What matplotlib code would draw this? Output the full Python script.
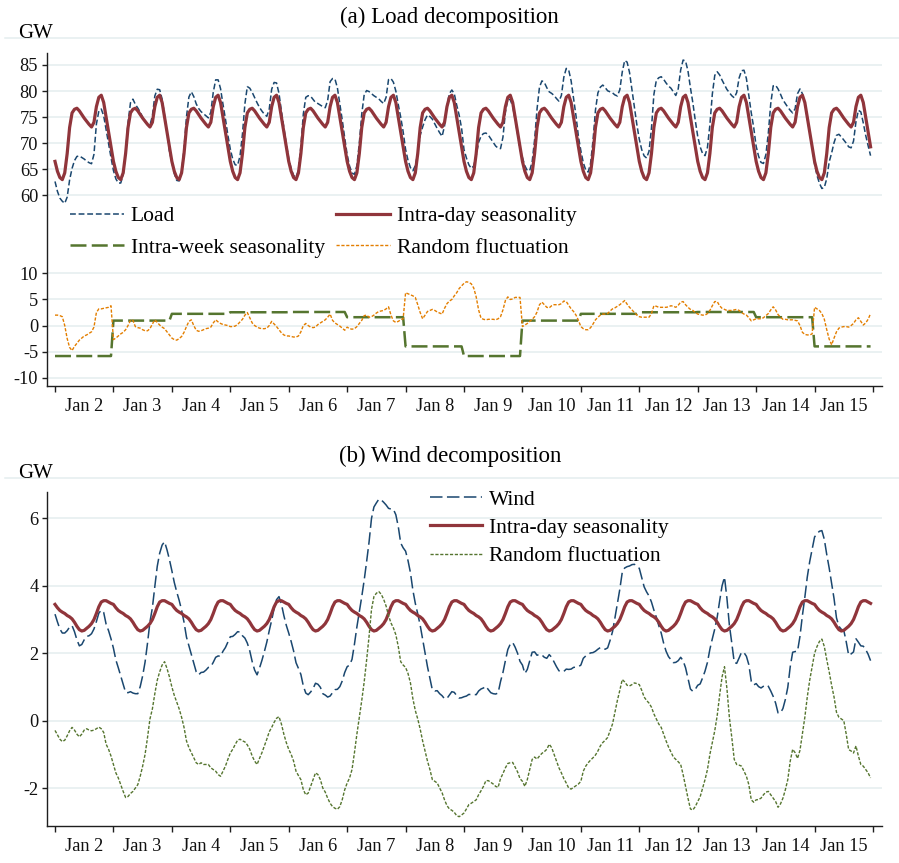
import numpy as np
import matplotlib
matplotlib.use("Agg")
import matplotlib.pyplot as plt
from matplotlib.lines import Line2D

plt.rcParams['font.family'] = ['Liberation Serif', 'DejaVu Serif']
plt.rcParams['lines.scale_dashes'] = False

# ---------------- data ----------------
day_labels = ['Jan 2', 'Jan 3', 'Jan 4', 'Jan 5', 'Jan 6', 'Jan 7', 'Jan 8',
              'Jan 9', 'Jan 10', 'Jan 11', 'Jan 12', 'Jan 13', 'Jan 14', 'Jan 15']

# hourly intra-day profile of load (GW), hours 0..23 (same every day)
load_intraday_profile = [66.5, 64.6, 63.4, 63.0, 64.3, 68.0, 73.0, 75.8, 76.5, 76.7,
                         76.2, 75.5, 74.8, 74.2, 73.6, 73.1, 74.0, 77.0, 78.8, 79.2,
                         77.8, 75.0, 72.3, 69.3]
# intra-week seasonality of load, one level per day
load_week_levels = [-5.85, 0.95, 2.25, 2.55, 2.6, 1.6, -4.0,
                    -5.85, 0.95, 2.25, 2.55, 2.6, 1.6, -4.0]
# random fluctuation of load, hourly, one row per day
load_random = [
    [2.0, 2.0, 1.9, 1.7, 0.0, -2.5, -4.2, -4.8, -4.0, -3.4, -2.8, -2.4, -2.0, -1.8, -1.5, -1.2, -0.3, 2.5, 3.2, 3.2, 3.3, 3.4, 3.5, 3.8],
    [-2.7, -2.4, -2.0, -1.6, -1.3, -0.8, 0.0, 1.0, 1.0, -0.2, -0.4, -0.5, -0.8, -1.0, -1.0, -0.6, 0.3, 1.1, 0.6, 0.1, -0.3, -0.6, -1.2, -1.8],
    [-2.4, -2.7, -2.8, -2.5, -2.1, -1.3, -0.2, 0.8, 1.1, 0.0, -0.9, -1.1, -1.0, -0.8, -0.6, -0.5, -0.3, 0.5, 1.1, 0.7, 0.4, 0.2, 0.1, 0.0],
    [-0.2, -0.2, -0.1, 0.2, 0.7, 1.2, 2.0, 2.5, 1.5, 0.5, 0.0, -0.3, -0.5, -0.6, -0.6, -0.5, 0.0, 0.8, 0.3, -0.2, -0.8, -1.4, -1.8, -2.0],
    [-2.0, -2.1, -2.2, -2.2, -2.0, -1.2, 0.0, 0.4, 0.0, -0.3, -0.4, -0.3, 0.2, 0.5, 0.8, 1.1, 1.6, 2.2, 1.0, 0.5, 0.2, -0.1, -0.5, -0.9],
    [-0.3, -0.6, -0.7, -0.6, -0.2, 0.4, 1.0, 1.9, 2.0, 1.6, 1.7, 2.0, 2.4, 2.7, 2.8, 2.9, 3.2, 3.6, 2.0, 0.9, 0.6, 0.8, 1.1, 1.3],
    [6.3, 6.1, 5.9, 5.7, 5.4, 4.0, 2.5, 1.3, 2.0, 2.7, 2.9, 3.1, 2.9, 2.6, 2.4, 2.2, 3.3, 4.2, 4.7, 5.0, 5.7, 6.3, 7.1, 7.6],
    [8.1, 8.4, 8.3, 8.0, 7.2, 5.5, 3.0, 1.4, 1.2, 1.1, 1.2, 1.2, 1.2, 1.1, 1.3, 1.7, 3.0, 4.8, 5.5, 5.0, 5.1, 5.4, 5.4, 5.4],
    [-0.2, 0.1, 0.4, 0.8, 1.2, 1.7, 2.6, 4.0, 4.5, 4.0, 3.5, 3.4, 3.8, 4.0, 4.0, 4.0, 4.2, 4.7, 4.6, 3.9, 3.2, 2.7, 2.0, 1.0],
    [-0.2, -0.6, -0.8, -0.8, -0.4, 0.3, 1.1, 1.6, 2.0, 2.2, 2.2, 2.3, 2.8, 3.2, 3.4, 3.7, 4.0, 4.4, 4.8, 4.1, 3.5, 3.0, 2.5, 2.0],
    [1.7, 1.6, 1.6, 1.6, 1.6, 2.3, 3.8, 3.7, 3.5, 3.5, 3.5, 3.5, 3.6, 3.8, 3.7, 3.5, 3.9, 4.5, 4.6, 4.0, 3.5, 3.1, 2.9, 2.5],
    [2.2, 2.1, 2.0, 2.0, 2.3, 2.9, 3.8, 4.6, 4.6, 3.8, 3.3, 3.1, 2.9, 2.9, 2.9, 3.0, 3.1, 2.9, 2.5, 2.2, 2.0, 1.5, 0.9, 1.1],
    [1.3, 1.3, 1.3, 1.5, 1.9, 2.3, 3.0, 3.6, 3.0, 2.1, 1.6, 1.2, 1.2, 1.1, 1.1, 1.1, 1.0, 0.9, 0.0, -1.3, -1.7, -1.8, -1.8, -1.6],
    [3.5, 3.2, 2.9, 2.3, 1.2, -0.8, -2.6, -3.7, -2.4, -1.2, -0.5, -0.3, -0.2, -0.2, -0.3, 0.0, 0.4, 1.1, 1.5, 0.8, 0.1, 0.5, 1.2, 2.3],
]

# hourly intra-day profile of wind (GW), hours 0..23
wind_intraday_profile = [3.45, 3.35, 3.27, 3.22, 3.18, 3.12, 3.08, 3.02, 2.92, 2.80,
                         2.70, 2.66, 2.68, 2.74, 2.80, 2.88, 3.00, 3.18, 3.38, 3.52,
                         3.56, 3.56, 3.52, 3.48]
# random fluctuation of wind, hourly, one row per day
wind_random = [
    [-0.29, -0.42, -0.55, -0.62, -0.58, -0.45, -0.30, -0.20, -0.28, -0.40, -0.48, -0.40, -0.28, -0.24, -0.28, -0.30, -0.28, -0.24, -0.19, -0.24, -0.35, -0.70, -0.85, -1.05],
    [-1.30, -1.55, -1.70, -1.90, -2.10, -2.28, -2.25, -2.16, -2.10, -2.00, -1.90, -1.65, -1.35, -1.00, -0.50, 0.05, 0.35, 0.80, 1.20, 1.45, 1.65, 1.75, 1.55, 1.30],
    [1.00, 0.75, 0.55, 0.35, 0.10, -0.20, -0.60, -0.80, -0.95, -1.10, -1.25, -1.30, -1.25, -1.30, -1.30, -1.30, -1.40, -1.45, -1.50, -1.60, -1.65, -1.50, -1.35, -1.15],
    [-0.96, -0.85, -0.71, -0.58, -0.55, -0.60, -0.63, -0.72, -0.85, -1.05, -1.20, -1.30, -1.12, -0.95, -0.75, -0.55, -0.33, -0.20, -0.05, 0.07, 0.12, -0.10, -0.40, -0.65],
    [-0.85, -1.00, -1.20, -1.50, -1.63, -1.75, -2.05, -2.20, -2.15, -1.95, -1.75, -1.55, -1.60, -1.75, -2.00, -2.12, -2.30, -2.45, -2.55, -2.60, -2.63, -2.55, -2.34, -2.05],
    [-1.85, -1.70, -1.45, -0.95, -0.40, 0.10, 0.60, 1.15, 1.80, 2.50, 3.30, 3.68, 3.78, 3.83, 3.75, 3.60, 3.40, 3.12, 2.90, 2.75, 2.55, 2.20, 1.75, 1.65],
    [1.58, 1.40, 1.12, 0.65, 0.30, 0.05, -0.25, -0.60, -0.90, -1.20, -1.45, -1.75, -1.80, -1.85, -2.00, -2.14, -2.35, -2.52, -2.62, -2.66, -2.72, -2.82, -2.85, -2.80],
    [-2.74, -2.62, -2.49, -2.45, -2.40, -2.35, -2.20, -2.08, -1.95, -1.78, -1.78, -1.83, -1.88, -1.95, -1.98, -1.72, -1.57, -1.40, -1.27, -1.25, -1.24, -1.38, -1.52, -1.72],
    [-1.80, -1.95, -1.75, -1.45, -1.15, -1.08, -1.14, -1.05, -0.97, -0.92, -0.85, -0.70, -0.80, -1.00, -1.20, -1.40, -1.55, -1.72, -1.85, -2.00, -2.03, -1.98, -1.93, -1.88],
    [-1.80, -1.50, -1.35, -1.25, -1.17, -1.10, -1.02, -0.90, -0.75, -0.65, -0.58, -0.50, -0.30, -0.10, 0.25, 0.60, 0.90, 1.22, 1.15, 1.05, 1.03, 1.07, 1.12, 1.10],
    [1.07, 0.90, 0.70, 0.60, 0.52, 0.40, 0.20, 0.05, -0.10, -0.20, -0.40, -0.60, -0.78, -0.93, -1.08, -1.15, -1.22, -1.30, -1.60, -1.95, -2.30, -2.62, -2.65, -2.55],
    [-2.40, -2.26, -2.00, -1.75, -1.45, -1.00, -0.65, -0.30, 0.15, 0.75, 1.30, 1.60, 0.95, 0.10, -0.50, -1.15, -1.30, -1.32, -1.35, -1.50, -1.65, -1.90, -2.35, -2.42],
    [-2.35, -2.34, -2.30, -2.20, -2.12, -2.10, -2.20, -2.30, -2.40, -2.57, -2.47, -2.30, -2.05, -1.75, -1.20, -0.85, -0.95, -1.12, -0.88, -0.40, 0.10, 0.70, 1.20, 1.60],
    [2.00, 2.20, 2.35, 2.42, 2.20, 1.81, 1.45, 1.05, 0.70, 0.25, 0.10, 0.05, 0.00, -0.40, -0.86, -0.90, -0.96, -0.75, -1.05, -1.30, -1.35, -1.45, -1.55, -1.70],
]

# Load and its intra-day seasonality are drawn 35 GW lower on the shared axis,
# whose upper tick labels are relabelled (as in the original chart)
LOAD_OFFSET = 35

n_days = len(day_labels)
t = np.arange(n_days * 24) / 24.0          # days since Jan 2 00:00

load_intraday = np.tile(load_intraday_profile, n_days)
load_week = np.repeat(load_week_levels, 24)
load_rand = np.concatenate(load_random)
load = load_intraday + load_week + load_rand        # additive decomposition

wind_intraday = np.tile(wind_intraday_profile, n_days)
wind_rand = np.concatenate(wind_random)
wind = wind_intraday + wind_rand

# ---------------- styling ----------------
NAVY = '#1a476f'
MAROON = '#90353b'
GREEN = '#55752f'
ORANGE = '#e37e00'
GRID = '#e4edef'
AXC = '#1e1e1e'
FS_TICK = 13.2
FS_LEG = 15.5

W, H = 899, 863
fig = plt.figure(figsize=(W / 100, H / 100), dpi=100)
fig.patch.set_facecolor('white')


def rect(l, r, top, bottom):
    return [l / W, 1 - bottom / H, (r - l) / W, (bottom - top) / H]


ax1 = fig.add_axes(rect(47, 882, 53, 386))
ax2 = fig.add_axes(rect(47, 882, 492, 826))


def style(ax):
    for s in ['top', 'right']:
        ax.spines[s].set_visible(False)
    for s in ['left', 'bottom']:
        ax.spines[s].set_linewidth(1.0)
        ax.spines[s].set_color(AXC)
    ax.set_xlim(-0.137, 14.154)
    ax.set_xticks(np.arange(n_days + 1))
    ax.set_xticklabels([''] * (n_days + 1))
    ax.set_xticks(np.arange(n_days) + 0.5, minor=True)
    ax.set_xticklabels(day_labels, minor=True)
    ax.tick_params(axis='x', which='major', length=4.5, width=1.0, color=AXC, direction='out')
    ax.tick_params(axis='x', which='minor', length=0, pad=8.5, labelsize=FS_TICK, labelcolor='#111111')
    ax.tick_params(axis='y', which='major', length=3.8, width=1.0, color=AXC, pad=2.5,
                   labelsize=FS_TICK, labelcolor='#111111')
    ax.grid(axis='y', which='major', color=GRID, linewidth=1.1)
    ax.grid(axis='x', visible=False)
    ax.set_axisbelow(True)


# ---- panel (a) ----
style(ax1)
l_load, = ax1.plot(t, load - LOAD_OFFSET, color=NAVY, lw=1.1, dashes=(4.2, 2.0), label='Load')
l_intra, = ax1.plot(t, load_intraday - LOAD_OFFSET, color=MAROON, lw=2.3, label='Intra-day seasonality')
l_week, = ax1.plot(t, load_week, color=GREEN, lw=1.8, dashes=(11.5, 3.8), label='Intra-week seasonality')
l_rand, = ax1.plot(t, load_rand, color=ORANGE, lw=1.0, dashes=(2.3, 1.2), label='Random fluctuation')
ax1.set_ylim(-11.6, 52.3)
lower_ticks = [-10, -5, 0, 5, 10]
upper_labels = [60, 65, 70, 75, 80, 85]
ax1.set_yticks(lower_ticks + [v - LOAD_OFFSET for v in upper_labels])
ax1.set_yticklabels([str(v) for v in lower_ticks] + [str(v) for v in upper_labels])

ax1.legend(handles=[l_load, l_week, l_intra, l_rand], ncol=2, loc='upper left',
           bbox_to_anchor=(70 / W, 1 - 206 / H), bbox_transform=fig.transFigure,
           frameon=False, fontsize=FS_LEG, handlelength=2.5, handletextpad=0.33,
           columnspacing=0.5, labelspacing=0.55, borderpad=0, borderaxespad=0)

# ---- panel (b) ----
style(ax2)
w_line, = ax2.plot(t, wind, color=NAVY, lw=1.1, dashes=(9.0, 3.2), label='Wind')
w_intra, = ax2.plot(t, wind_intraday, color=MAROON, lw=2.3, label='Intra-day seasonality')
w_rand, = ax2.plot(t, wind_rand, color=GREEN, lw=1.0, dashes=(2.3, 1.2), label='Random fluctuation')
ax2.set_ylim(-3.126, 6.785)
ax2.set_yticks([-2, 0, 2, 4, 6])
ax2.set_yticklabels(['-2', '0', '2', '4', '6'])
ax2.legend(handles=[w_line, w_intra, w_rand], ncol=1, loc='upper left',
           bbox_to_anchor=(430 / W, 1 - 489.5 / H), bbox_transform=fig.transFigure,
           frameon=False, fontsize=FS_LEG, handlelength=2.4, handletextpad=0.33,
           labelspacing=0.38, borderpad=0, borderaxespad=0)

# ---- titles, unit labels, separator lines ----
fig.text(449.5 / W, 1 - 17 / H, '(a) Load decomposition', ha='center', va='center', fontsize=16.5)
fig.text(450 / W, 1 - 456 / H, '(b) Wind decomposition', ha='center', va='center', fontsize=16.5)
fig.text(18 / W, 1 - 33 / H, 'GW', ha='left', va='center', fontsize=15)
fig.text(18 / W, 1 - 473 / H, 'GW', ha='left', va='center', fontsize=15)
for yy in (38.3, 478.3):
    fig.add_artist(Line2D([5 / W, 1.0], [1 - yy / H, 1 - yy / H], transform=fig.transFigure,
                          color=GRID, lw=1.1))

fig.savefig('out.png', dpi=100)
